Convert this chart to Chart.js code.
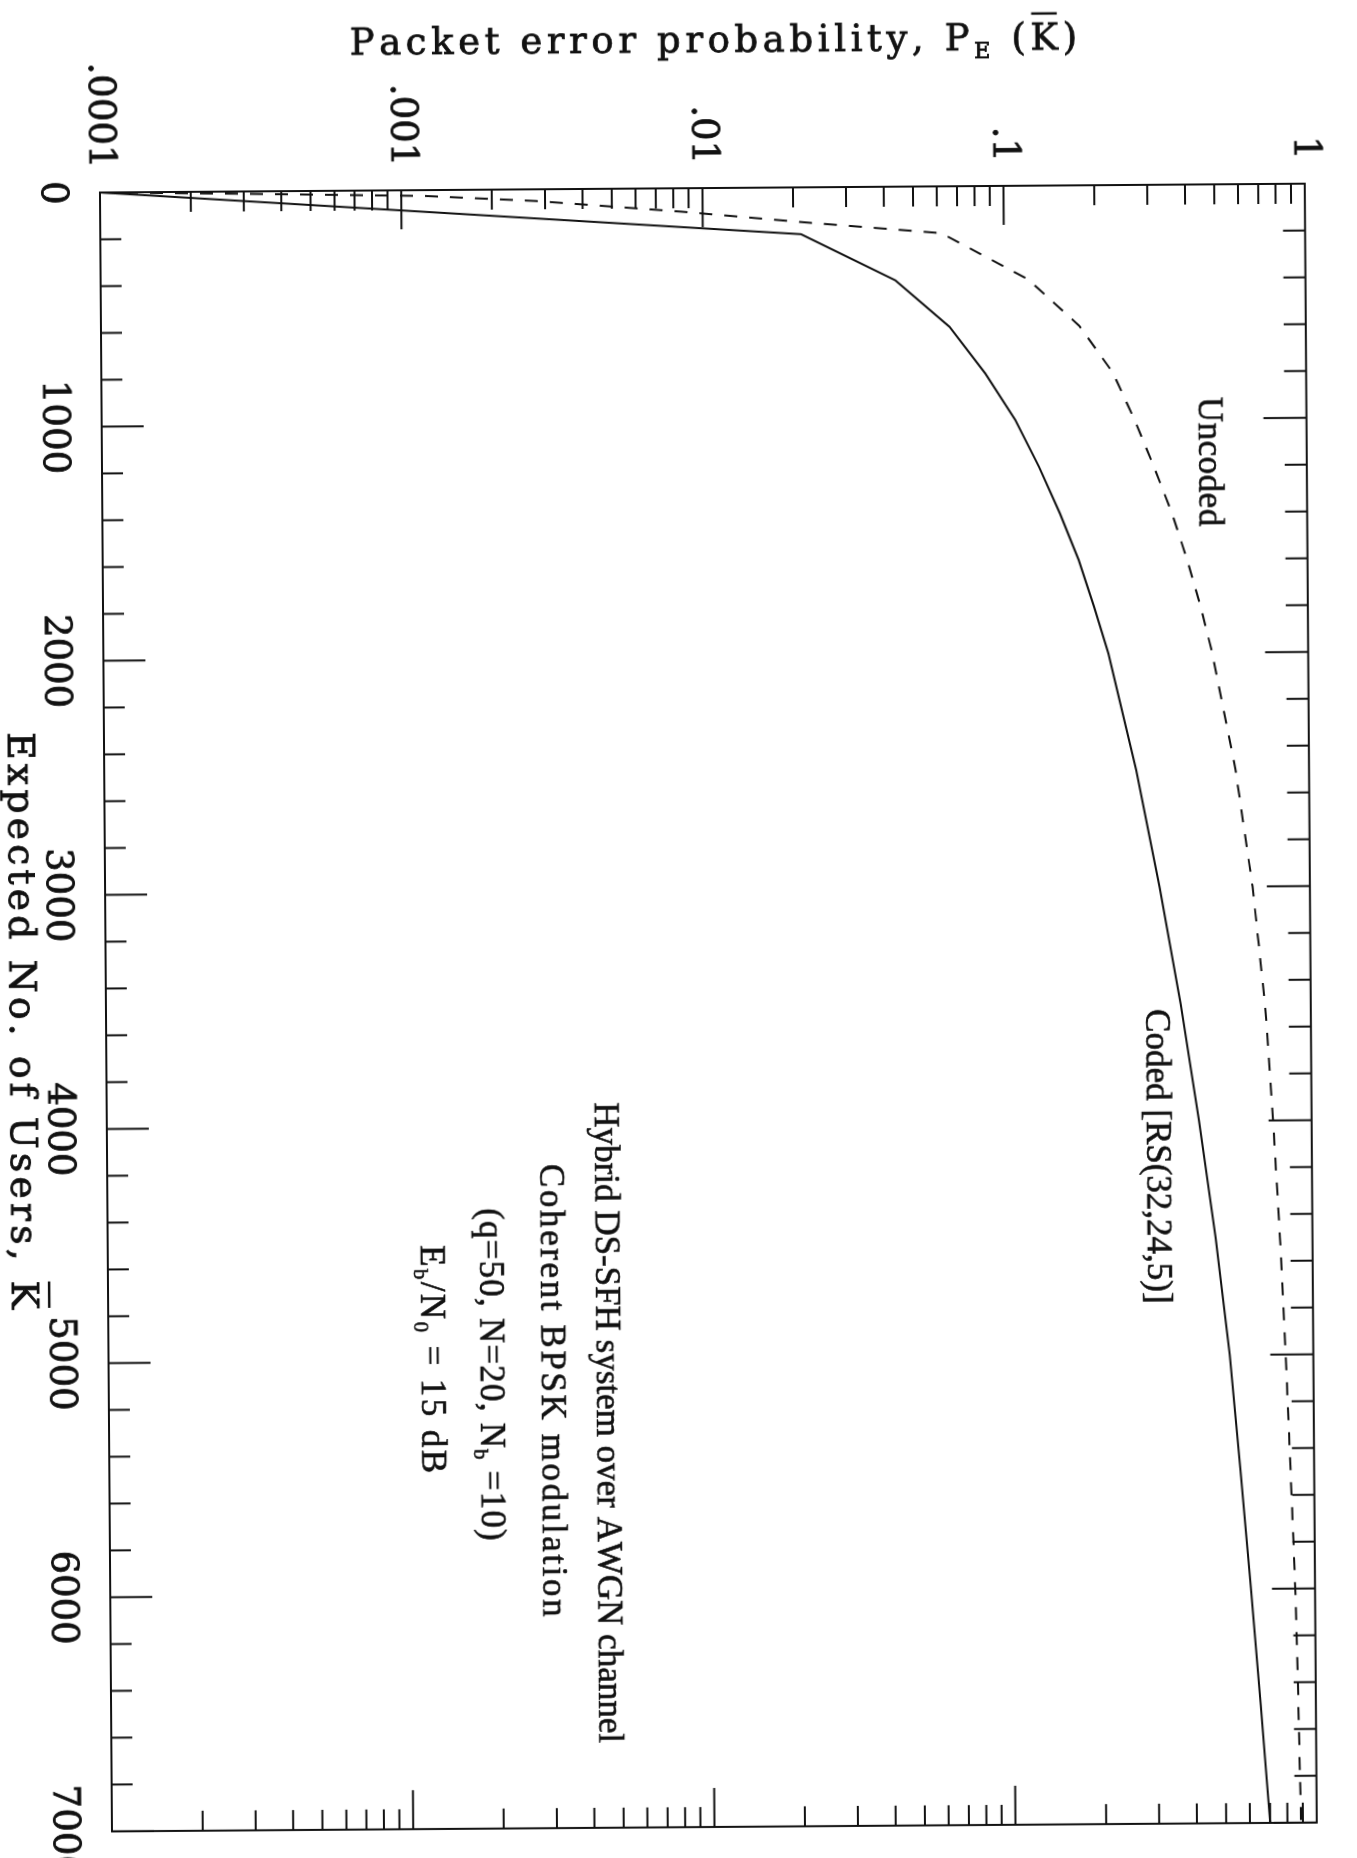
<!DOCTYPE html>
<html>
<head>
<meta charset="utf-8">
<script src="https://cdn.jsdelivr.net/npm/chart.js@4.4.1/dist/chart.umd.min.js"></script>
<style>
  html, body { margin: 0; padding: 0; background: #fff; overflow: hidden; width: 1357px; height: 1858px; }
  #wrap { position: absolute; left: 0; top: 0; width: 1900px; height: 1357px;
          transform-origin: 1013px 639px; transform: translate(-295px, 374px) rotate(89.58deg); }
</style>
</head>
<body>
<div id="wrap"><canvas id="c"></canvas></div>
<script>
// ---------------- data ----------------
const usersCoded = [0, 200, 400, 600, 800, 1000, 1200, 1400, 1600, 1800, 2000, 2500, 3000, 3500, 4000, 4500, 5000, 5500, 6000, 6500, 7000];
const pCoded     = [0.0001, 0.0212, 0.0435, 0.0656, 0.086, 0.108, 0.129, 0.151, 0.174, 0.195, 0.217, 0.267, 0.317, 0.37, 0.423, 0.477, 0.528, 0.57, 0.613, 0.656, 0.70];

const usersUncoded = [0, 10, 25, 50, 100, 150, 200, 400, 600, 800, 1000, 1200, 1400, 1600, 1800, 2000, 2500, 3000, 3500, 4000, 4500, 5000, 5500, 6000, 6500, 7000];
const pUncoded     = [0.0001, 0.0003, 0.0012, 0.0028, 0.0085, 0.022, 0.062, 0.12, 0.177, 0.228, 0.268, 0.31, 0.355, 0.398, 0.44, 0.48, 0.57, 0.645, 0.705, 0.745, 0.78, 0.81, 0.835, 0.86, 0.875, 0.887];

const userTickValues = [0, 1000, 2000, 3000, 4000, 5000, 6000, 7000];
const userTickLabels = ['0', '1000', '2000', '3000', '4000', '5000', '6000', '7000'];
const probTickValues = [0.0001, 0.001, 0.01, 0.1, 1];
const probTickLabels = ['.0001', '.001', '.01', '.1', '1'];

// ---------------- styling ----------------
const INK = '#111';
const SERIF_T = '"DejaVu Serif", serif';
const SERIF_A = '"Liberation Serif", "Times New Roman", serif';

const annotations = [
  { segs: [{ t: 'Uncoded' }], users: 1184, prob: 0.48, spacing: 0.5 },
  { segs: [{ t: 'Coded [RS(32,24,5)]' }], users: 4150, prob: 0.31, spacing: 0 },
  { segs: [{ t: 'Hybrid DS-SFH system over AWGN channel' }], users: 5270, prob: 0.00454, spacing: 0 },
  { segs: [{ t: 'Coherent BPSK modulation' }], users: 5130, prob: 0.003, spacing: 2.6 },
  { segs: [{ t: '(q=50, N=20, N' }, { t: 'b', sub: true }, { t: ' =10)' }], users: 5060, prob: 0.00188, spacing: 1.2 },
  { segs: [{ t: 'E' }, { t: 'b', sub: true }, { t: '/N' }, { t: '0', sub: true }, { t: ' = 15 dB' }], users: 4993, prob: 0.0012, spacing: 2.4 }
];

// draws a line of text with optional subscripts / overbars, character by character
function drawRich(ctx, segs, cx, baseline, size, family, capRatio, spacing) {
  const parts = [];
  let total = 0;
  for (const s of segs) {
    const fs = s.sub ? size * 0.6 : size;
    ctx.font = fs + 'px ' + family;
    const chars = [];
    let w = 0;
    for (const ch of s.t) {
      const cw = ctx.measureText(ch).width;
      chars.push({ ch, cw });
      w += cw + spacing;
    }
    parts.push({ s, fs, chars, w });
    total += w;
  }
  total -= spacing;
  let x = cx - total / 2;
  ctx.textAlign = 'left';
  ctx.textBaseline = 'alphabetic';
  for (const p of parts) {
    ctx.font = p.fs + 'px ' + family;
    const dy = p.s.sub ? size * 0.22 : 0;
    const x0 = x;
    for (const c of p.chars) {
      ctx.fillText(c.ch, x, baseline + dy);
      ctx.strokeText(c.ch, x, baseline + dy);
      x += c.cw + spacing;
    }
    if (p.s.bar) {
      const yb = baseline - size * capRatio - size * 0.28;
      ctx.fillRect(x0 + 1, yb, (x - spacing) - x0 - 2, 2.5);
    }
  }
}

const framePlugin = {
  id: 'frameTicks',
  afterDatasetsDraw(chart) {
    const { ctx, chartArea: a, scales: { x, y } } = chart;
    ctx.save();
    ctx.strokeStyle = INK;
    ctx.lineWidth = 2;
    ctx.strokeRect(a.left, a.top, a.right - a.left, a.bottom - a.top);
    ctx.beginPath();
    for (let k = 0; k <= 7000; k += 200) {
      const px = x.getPixelForValue(k);
      const major = k % 1000 === 0;
      const lb = major ? 42 : 21;
      const lt = major ? 43 : 22;
      ctx.moveTo(px, a.bottom); ctx.lineTo(px, a.bottom - lb);
      ctx.moveTo(px, a.top); ctx.lineTo(px, a.top + lt);
    }
    for (let e = -4; e < 0; e++) {
      for (let m = 1; m <= 9; m++) {
        const v = m * Math.pow(10, e);
        const py = y.getPixelForValue(v);
        const L = m === 1 ? 39 : 20;
        ctx.moveTo(a.left, py); ctx.lineTo(a.left + L, py);
        ctx.moveTo(a.right, py); ctx.lineTo(a.right - L, py);
      }
    }
    ctx.stroke();
    ctx.restore();
  },
  afterDraw(chart) {
    const { ctx, chartArea: a, scales: { x, y } } = chart;
    ctx.save();
    ctx.fillStyle = INK;
    ctx.strokeStyle = INK;
    ctx.lineWidth = 0.6;
    // annotations
    const aSize = 35;
    for (const an of annotations) {
      const cx = x.getPixelForValue(an.users);
      const cy = y.getPixelForValue(an.prob);
      drawRich(ctx, an.segs, cx, cy + aSize * 0.33, aSize, SERIF_A, 0.66, an.spacing);
    }
    // x-axis title (users)
    ctx.lineWidth = 0.8;
    drawRich(ctx, [{ t: 'Expected No. of Users, ' }, { t: 'K', bar: true }],
      (a.left + a.right) / 2 + 8, 1347, 38, SERIF_T, 0.73, 4);
    // y-axis title (probability), rotated
    ctx.save();
    ctx.translate(52, (a.top + a.bottom) / 2 - 12);
    ctx.rotate(-Math.PI / 2);
    drawRich(ctx, [{ t: 'Packet error probability, P' }, { t: 'E', sub: true }, { t: ' (' }, { t: 'K', bar: true }, { t: ')' }],
      0, 0, 37, SERIF_T, 0.73, 4.6);
    ctx.restore();
    ctx.restore();
  }
};

const ctx = document.getElementById('c').getContext('2d');
new Chart(ctx, {
  type: 'line',
  data: {
    datasets: [
      {
        label: 'Coded [RS(32,24,5)]',
        data: usersCoded.map((k, i) => ({ x: k, y: pCoded[i] })),
        borderColor: INK, borderWidth: 2, pointRadius: 0, tension: 0, fill: false
      },
      {
        label: 'Uncoded',
        data: usersUncoded.map((k, i) => ({ x: k, y: pUncoded[i] })),
        borderColor: INK, borderWidth: 2, borderDash: [13, 12], pointRadius: 0, tension: 0, fill: false
      }
    ]
  },
  options: {
    responsive: true,
    maintainAspectRatio: false,
    animation: false,
    events: [],
    layout: { padding: { top: 27, right: 62, left: 0, bottom: 0 } },
    plugins: { legend: { display: false }, tooltip: { enabled: false }, title: { display: false } },
    scales: {
      x: {
        type: 'linear', position: 'bottom', min: 0, max: 7000,
        afterBuildTicks: s => { s.ticks = userTickValues.map(v => ({ value: v })); },
        ticks: {
          autoSkip: false, maxRotation: 0, minRotation: 0, padding: 26, color: INK,
          textStrokeColor: INK, textStrokeWidth: 0.8,
          font: { family: 'DejaVu Serif', size: 37 },
          callback: v => userTickLabels[userTickValues.indexOf(v)]
        },
        grid: { display: false, drawTicks: false },
        border: { display: false },
        afterFit: s => { s.height = 106; }
      },
      y: {
        type: 'logarithmic', position: 'left', min: 0.0001, max: 1,
        afterBuildTicks: s => { s.ticks = probTickValues.map(v => ({ value: v })); },
        ticks: {
          autoSkip: false, padding: 24, color: INK,
          textStrokeColor: INK, textStrokeWidth: 0.8,
          font: { family: 'DejaVu Serif', size: 37 },
          callback: v => {
            const i = probTickValues.findIndex(t => Math.abs(Math.log10(t) - Math.log10(v)) < 1e-6);
            return i >= 0 ? probTickLabels[i] : '';
          }
        },
        grid: { display: false, drawTicks: false },
        border: { display: false },
        afterFit: s => { s.width = 188; }
      }
    }
  },
  plugins: [framePlugin]
});
</script>
</body>
</html>
